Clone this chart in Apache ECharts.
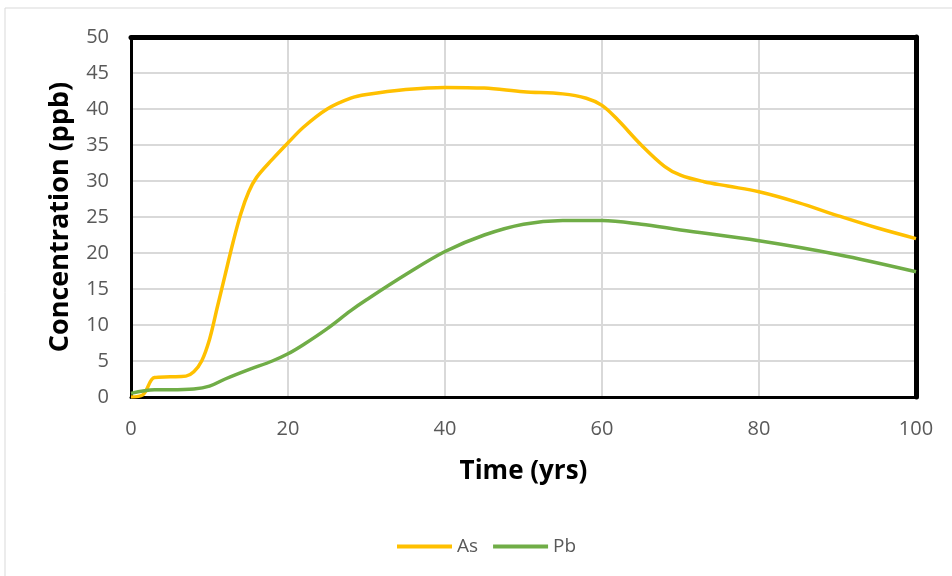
<!DOCTYPE html>
<html>
<head>
<meta charset="utf-8">
<script src="https://cdn.jsdelivr.net/npm/echarts@6/dist/echarts.min.js"></script>
<style>
  html, body { margin: 0; padding: 0; background: #fff; }
  #chart { width: 952px; height: 576px; }
</style>
</head>
<body>
<div id="chart"></div>
<script>
// Time axis (years) and concentrations (ppb)
const timeYrs = [0, 1.5, 3, 5, 7, 8, 9, 10, 11, 12, 13, 14, 15, 16, 18, 20, 22, 25, 28, 30, 35, 40, 45, 50, 55, 58, 60, 62, 65, 68, 70, 73, 76, 80, 85, 90, 95, 100];
const asValues = [0, 0.3, 2.7, 2.8, 2.9, 3.5, 5, 8, 12.5, 17, 21.5, 25.5, 28.5, 30.5, 33, 35.3, 37.5, 40, 41.5, 42, 42.7, 43, 42.9, 42.4, 42.1, 41.5, 40.5, 38.5, 35, 32, 30.8, 29.9, 29.3, 28.5, 27, 25.2, 23.5, 22];

const pbTime = [0, 3, 5, 8, 10, 12, 15, 18, 20, 22, 25, 28, 30, 35, 40, 45, 50, 55, 60, 65, 70, 80, 90, 100];
const pbValues = [0.5, 1.0, 1.0, 1.1, 1.5, 2.5, 3.8, 5, 6, 7.3, 9.5, 12, 13.5, 17, 20.2, 22.5, 24, 24.5, 24.5, 24, 23.2, 21.7, 19.8, 17.4];

const xTicks = [0, 20, 40, 60, 80, 100];
const yTicks = [0, 5, 10, 15, 20, 25, 30, 35, 40, 45, 50];

const pair = (xs, ys) => xs.map((x, i) => [x, ys[i]]);

const labelFont = 'Open Sans';

const chart = echarts.init(document.getElementById('chart'));
chart.setOption({
  animation: false,
  backgroundColor: '#fff',
  graphic: [{
    // chart-area outline
    type: 'rect',
    shape: { x: 5, y: 8, width: 960, height: 580 },
    style: { fill: 'none', stroke: '#d9d9d9', lineWidth: 1 },
    silent: true
  }],
  grid: { left: 131, right: 36, top: 37, bottom: 179, show: false },
  legend: {
    top: 537,
    left: 397,
    padding: 0,
    itemWidth: 55,
    itemHeight: 4,
    itemGap: 15,
    icon: 'rect',
    textStyle: { fontFamily: labelFont, fontSize: 19, color: '#595959' },
    data: ['As', 'Pb']
  },
  xAxis: [{
    type: 'value',
    min: xTicks[0], max: xTicks[xTicks.length - 1], interval: 20,
    name: 'Time (yrs)',
    nameLocation: 'middle',
    nameGap: 62,
    nameTextStyle: { fontFamily: labelFont, fontWeight: 'bold', fontSize: 26, color: '#000' },
    axisLine: { show: true, onZero: false, lineStyle: { color: '#000', width: 3 } },
    axisTick: { show: false },
    axisLabel: { margin: 22, fontFamily: labelFont, fontSize: 20, color: '#595959' },
    splitLine: { show: true, lineStyle: { color: '#d9d9d9', width: 2 } }
  }, {
    // heavy top frame
    type: 'value', position: 'top',
    min: xTicks[0], max: xTicks[xTicks.length - 1],
    axisLine: { show: true, onZero: false, lineStyle: { color: '#000', width: 5 } },
    axisTick: { show: false }, axisLabel: { show: false }, splitLine: { show: false }
  }],
  yAxis: [{
    type: 'value',
    min: yTicks[0], max: yTicks[yTicks.length - 1], interval: 5,
    name: 'Concentration (ppb)',
    nameLocation: 'middle',
    nameGap: 57,
    nameTextStyle: { fontFamily: labelFont, fontWeight: 'bold', fontSize: 27, color: '#000' },
    axisLine: { show: true, onZero: false, lineStyle: { color: '#000', width: 3 } },
    axisTick: { show: false },
    axisLabel: { margin: 22, fontFamily: labelFont, fontSize: 20, color: '#595959' },
    splitLine: { show: true, lineStyle: { color: '#d9d9d9', width: 2 } }
  }, {
    // heavy right frame
    type: 'value', position: 'right',
    min: yTicks[0], max: yTicks[yTicks.length - 1],
    axisLine: { show: true, onZero: false, lineStyle: { color: '#000', width: 5 } },
    axisTick: { show: false }, axisLabel: { show: false }, splitLine: { show: false }
  }],
  series: [{
    name: 'As',
    type: 'line',
    smooth: 0.35,
    showSymbol: false,
    symbol: 'none',
    data: pair(timeYrs, asValues),
    itemStyle: { color: '#ffc000' },
    lineStyle: { color: '#ffc000', width: 3.5 },
    z: 3
  }, {
    name: 'Pb',
    type: 'line',
    smooth: 0.35,
    showSymbol: false,
    symbol: 'none',
    data: pair(pbTime, pbValues),
    itemStyle: { color: '#70ad47' },
    lineStyle: { color: '#70ad47', width: 3.5 },
    z: 4
  }]
});
</script>
</body>
</html>
